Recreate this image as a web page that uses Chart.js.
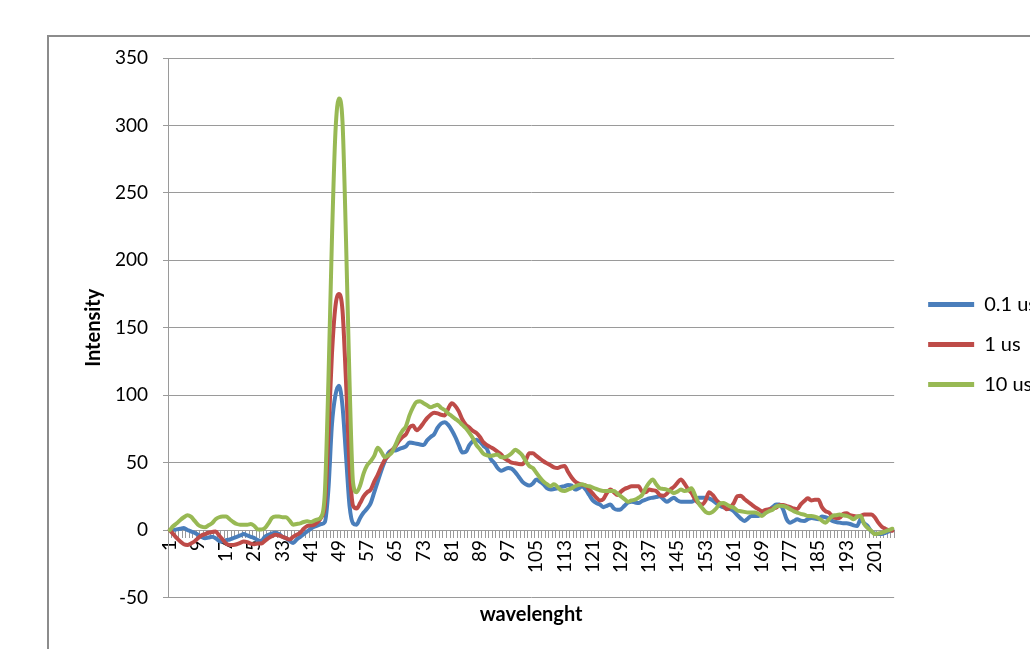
<!DOCTYPE html>
<html><head><meta charset="utf-8">
<script src="https://cdn.jsdelivr.net/npm/chart.js@4.4.1/dist/chart.umd.min.js"></script>
<style>
html,body{margin:0;padding:0;width:1030px;height:649px;overflow:hidden;background:#fff;}
#frame{position:absolute;left:47px;top:35px;width:1100px;height:700px;border:2px solid #8c8c8c;}
#c{position:absolute;left:0;top:0;}
</style></head><body>
<div id="frame"></div>
<canvas id="c"></canvas>
<script>
const categories = [1,2,3,4,5,6,7,8,9,10,11,12,13,14,15,16,17,18,19,20,21,22,23,24,25,26,27,28,29,30,31,32,33,34,35,36,37,38,39,40,41,42,43,44,45,46,47,48,49,50,51,52,53,54,55,56,57,58,59,60,61,62,63,64,65,66,67,68,69,70,71,72,73,74,75,76,77,78,79,80,81,82,83,84,85,86,87,88,89,90,91,92,93,94,95,96,97,98,99,100,101,102,103,104,105,106,107,108,109,110,111,112,113,114,115,116,117,118,119,120,121,122,123,124,125,126,127,128,129,130,131,132,133,134,135,136,137,138,139,140,141,142,143,144,145,146,147,148,149,150,151,152,153,154,155,156,157,158,159,160,161,162,163,164,165,166,167,168,169,170,171,172,173,174,175,176,177,178,179,180,181,182,183,184,185,186,187,188,189,190,191,192,193,194,195,196,197,198,199,200,201,202,203,204,205,206];
const tickLabels = ['1','9','17','25','33','41','49','57','65','73','81','89','97','105','113','121','129','137','145','153','161','169','177','185','193','201'];
const seriesNames = ['0.1 us','1 us','10 us'];

const series01us = [
0,0,0.5,1,1.5,0,-1,-2,-3.5,-5,
-6,-5.5,-5,-6,-8,-8.5,-7.5,-7,-6,-5,
-4,-3,-4,-5,-6,-7.5,-8,-5,-3.5,-2.5,
-2,-3,-5,-6,-8,-9.5,-7,-5,-3,-1,
1,2.5,3.5,4.5,6,30,78,100,107,92,
55,18,5,4,9,13,16,20,28,36,
44,51,57,59,59,60,61,62,65,64.5,
64,63.5,63,66.5,69,71,76,79,80,78,
74,69,63,57.5,58,63,66,67,65.5,62.5,
60,53,50,46,44,45,46,45.5,43,39.5,
36,34,33,34.5,37.5,36,34,31,30,30.5,
31,32,32.5,33.5,33,30,31,32.5,30,26,
22,20,19,17,18,19,16,15,15.5,18,
20.5,21,20.5,20,21.5,22.5,23.5,24,24.5,25,
23,21,22.5,24,22,21,21,21,21,22.5,
24,24,24,23.5,22,20,18,17,16,15.5,
14,11,8.5,6.7,8.5,10.5,10.5,10.5,12,13,
15,17,19,19,15.3,8,5.5,6.7,8,7,
6.7,8,9,8.5,8,10,9.5,8.5,6.7,6,
5.5,5,5,4.5,3.5,3,8,5,3,-1,
-2.5,-3,-3,-2,-1,0];

const series1us = [
0,-3,-6,-8.5,-10.5,-11,-10,-8.5,-6,-4,
-3,-2,-1.5,-1,-4,-7,-10,-11,-11,-10.5,
-9.5,-8.5,-9,-10,-10.5,-10,-10,-8,-6,-4.5,
-3.5,-4,-5,-6,-7,-5,-3.5,-2,1,3,
3.5,4,6,9.5,18,70,130,166,175,163,
110,48,18,16,20,25,28,30,36,41,
47,52,55,59,62,66,69,71,76,77.5,
74,76,79.5,83,85.5,87,86.5,85.5,85,90,
94,92,88,82,78,76,73.5,72,69,65,
63,61.5,60,58,56,53,51.5,50,49.5,49,
48.8,52,57,57,55,53,51,49.5,48,46.5,
46,47,47.5,43,39,36,34.5,33.5,33,30,
27,24,22,23,27.5,30,28,26,28.5,30.5,
31.5,32.5,32.5,32.5,28.5,28,30,29.5,29,26,
25.5,27,30,32,35,37.5,34.5,30.5,27.5,23,
20,19,22,28,26,22.5,20,18,15.5,17,
20,25,25.5,23,21,19,17,15.5,14,15,
15.5,16,16.6,18.5,18.5,17.8,17,16,15.5,19,
21.5,23.5,22,22.5,22.5,17,14,13,10,9,
9,12,12.5,11,10.5,10,10.5,11.5,11.5,11.5,
9.5,5.5,2.5,1,0,-0.5];

const series10us = [
0,3,5,7.5,9.5,11,10,7,4,2.5,
2,3.5,5,8,9.5,10,10,8,6,4.5,
4,4,4,4.5,3,0.5,0.5,1.5,5,9,
10,10,9.5,9.5,7,4,4.5,5,6,6.5,
6,7,8,10,28,110,215,295,320,303,
215,110,35,28,33,42,48,51,55,61,
58,54,55.5,57.5,63,69,73.5,77,85,91,
95,95.5,94,92.5,91,92,93,90.5,89,86.5,
84.5,82.5,80.5,78,75.5,72,68,63,60,56.5,
55.5,55,55.5,56,54,54,55,57,59.5,58,
55.5,51,47.5,46,42.5,39,36,34,32.5,34,
32,29.5,29,30,31,32.5,33.5,34,33,32.5,
31.5,30.5,29.5,29,29,29,29,27,25,23,
21,22,22.5,24,26,31,35,37.5,34,31,
30.5,30,29,27.5,28.5,30,29,29.5,31,26,
20,16.5,13.5,12.5,13.5,16,19.5,20,19,17.5,
16.5,14.5,14,13.5,13,13,13,12,10.5,12.5,
14,15,17.5,18,17.8,17,15.5,14,13,12,
11.5,10.5,10.5,10,9,7,5.5,8,10.5,11,
11.5,11,10.5,9.5,8,10,10.5,4.5,1.5,-0.5,
-3,-2.5,-2,-1,0,1];

const colors = ['#4A7EBB','#BE4B48','#98B954'];

const FONT = 'Lato';
const legendFontSize = 20;
const boxW = 46;
const mctx = document.createElement('canvas').getContext('2d');
mctx.font = legendFontSize + 'px ' + FONT;
const maxText = Math.max(...seriesNames.map(s => mctx.measureText(s).width));
const itemWidth = boxW + legendFontSize / 2 + maxText;
const W = Math.round(938 + itemWidth);
const H = 649;
const canvas = document.getElementById('c');
canvas.width = W; canvas.height = H;
canvas.style.width = W + 'px'; canvas.style.height = H + 'px';

const gridColor = '#9a9a9a';
const seriesData = [series01us, series1us, series10us];

new Chart(canvas, {
  type: 'line',
  data: {
    labels: categories,
    datasets: seriesData.map((d, i) => ({
      label: seriesNames[i],
      data: d,
      borderColor: colors[i],
      backgroundColor: colors[i],
      borderWidth: 4,
      pointRadius: 0,
      fill: false,
      cubicInterpolationMode: 'monotone',
      borderJoinStyle: 'round',
      borderCapStyle: 'round',
      order: 2 - i,
      xAxisID: 'x',
      yAxisID: 'y'
    }))
  },
  options: {
    responsive: false,
    animation: false,
    events: [],
    layout: { padding: { left: 78, top: 58, right: 0, bottom: 18 } },
    plugins: {
      tooltip: { enabled: false },
      legend: {
        position: 'right',
        align: 'center',
        labels: {
          font: { family: FONT, size: legendFontSize },
          color: '#000',
          boxWidth: boxW,
          boxHeight: 5,
          padding: 20,
          sort: (a, b) => a.datasetIndex - b.datasetIndex,
          generateLabels: (chart) => {
            const items = Chart.defaults.plugins.legend.labels.generateLabels(chart);
            items.forEach(it => { it.lineWidth = 0; it.fillStyle = colors[it.datasetIndex]; });
            return items;
          }
        }
      }
    },
    scales: {
      x: {
        type: 'category',
        position: { y: 0 },
        offset: true,
        grid: { display: true, drawOnChartArea: false, drawTicks: true, tickLength: 7, offset: true, color: gridColor },
        border: { display: true, color: gridColor, width: 1 },
        ticks: {
          autoSkip: false, maxRotation: 90, minRotation: 90, padding: 3,
          font: { family: FONT, size: 19 }, color: '#000',
          callback: function (val, idx) {
            const c = String(categories[idx]);
            return tickLabels.includes(c) ? c : '';
          }
        }
      },
      x2: {
        type: 'linear',
        axis: 'x',
        position: 'bottom',
        display: true,
        grid: { display: false },
        border: { display: false },
        ticks: { display: false },
        title: { display: true, text: 'wavelenght', font: { family: FONT, size: 20, weight: 'bold' }, color: '#000', padding: { top: 4, bottom: 4 } },
        afterFit: (s) => { s.height = 33.5; }
      },
      y: {
        type: 'linear',
        position: 'left',
        min: -50, max: 350,
        ticks: { stepSize: 50, padding: 15, font: { family: FONT, size: 19 }, color: '#000' },
        grid: { color: gridColor, lineWidth: 1, tickLength: 5 },
        border: { display: true, color: gridColor, width: 1 },
        title: { display: true, text: 'Intensity', font: { family: FONT, size: 20, weight: 'bold' }, color: '#000', padding: { top: 4, bottom: 4 } },
        afterFit: (s) => { s.width = 90; }
      },
      yR: {
        type: 'linear',
        axis: 'y',
        position: 'right',
        display: true,
        grid: { display: false },
        border: { display: false },
        ticks: { display: false },
        afterFit: (s) => { s.width = 14; }
      }
    }
  }
});
</script>
</body></html>
